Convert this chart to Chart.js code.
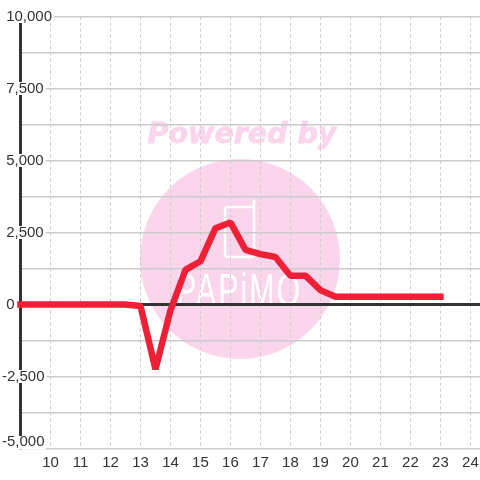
<!DOCTYPE html>
<html>
<head>
<meta charset="utf-8">
<script src="https://cdn.jsdelivr.net/npm/chart.js@4"></script>
<style>
body { margin: 0; background: #fff; }
canvas { display: block; }
</style>
</head>
<body>
<canvas id="chart" width="480" height="480"></canvas>
<script>
const hours = [9, 9.5, 10, 10.5, 11, 11.5, 12, 12.5, 13, 13.5, 14, 14.5, 15, 15.5, 16, 16.5, 17, 17.5, 18, 18.5, 19, 19.5, 20, 20.5, 21, 21.5, 22, 22.5, 23];
const values = [0, 0, 0, 0, 0, 0, 0, 0, -50, -2250, -200, 1200, 1500, 2650, 2850, 1900, 1750, 1650, 1000, 1000, 500, 270, 270, 270, 270, 270, 270, 270, 270];
const xTicks = [10, 11, 12, 13, 14, 15, 16, 17, 18, 19, 20, 21, 22, 23, 24];
const yLabelled = [10000, 7500, 5000, 2500, 0, -2500];
const yBottomLabel = -5000;

const labelFont = '15px "Liberation Sans"';

// watermark sits under the grid
const watermark = {
    id: 'watermark',
    beforeDraw(chart) {
        const ctx = chart.ctx;
        ctx.save();
        ctx.fillStyle = '#fbd5ec';
        ctx.beginPath();
        ctx.arc(240, 259, 100, 0, Math.PI * 2);
        ctx.fill();

        ctx.font = 'italic bold 28.5px "DejaVu Sans"';
        ctx.textAlign = 'center';
        ctx.textBaseline = 'middle';
        ctx.fillText('Powered by', 242, 136);
        ctx.strokeStyle = '#fbd5ec';
        ctx.lineWidth = 0.8;
        ctx.strokeText('Powered by', 242, 136);

        // phone icon
        ctx.strokeStyle = '#fff';
        ctx.lineWidth = 2.5;
        ctx.lineCap = 'round';
        ctx.beginPath();
        ctx.moveTo(254, 201);
        ctx.lineTo(254, 254);
        ctx.quadraticCurveTo(254, 257, 251, 257);
        ctx.lineTo(228, 257);
        ctx.quadraticCurveTo(225, 257, 225, 254);
        ctx.lineTo(225, 210);
        ctx.quadraticCurveTo(225, 207, 228, 207);
        ctx.lineTo(254, 207);
        ctx.stroke();

        ctx.fillStyle = '#fff';
        ctx.font = '46px "Liberation Sans"';
        ctx.letterSpacing = '3px';
        ctx.textBaseline = 'alphabetic';
        ctx.translate(239, 306);
        ctx.scale(0.66, 1);
        ctx.fillText('PAPiMO', 0, 0);
        ctx.restore();
    }
};

// the lowest label is pushed up so it stays above the bottom grid line
const bottomLabel = {
    id: 'bottomLabel',
    afterDatasetsDraw(chart) {
        const ctx = chart.ctx;
        const y = chart.scales.y.getPixelForValue(yBottomLabel);
        ctx.save();
        ctx.fillStyle = '#fff';
        ctx.fillRect(0, y - 12.5, 46, 13.5);
        ctx.fillStyle = '#333';
        ctx.font = labelFont;
        ctx.textAlign = 'left';
        ctx.textBaseline = 'middle';
        ctx.fillText(yBottomLabel.toLocaleString('en-US'), 2, y - 7);
        ctx.restore();
    }
};

new Chart(document.getElementById('chart'), {
    type: 'line',
    data: {
        datasets: [{
            data: hours.map((h, i) => ({ x: h, y: values[i] })),
            borderColor: '#ef2036',
            borderWidth: 6.5,
            borderCapStyle: 'square',
            borderJoinStyle: 'bevel',
            pointRadius: 0,
            tension: 0,
            clip: 4
        }]
    },
    options: {
        responsive: false,
        animation: false,
        layout: { padding: { top: 16.5, left: 2 } },
        plugins: { legend: { display: false }, tooltip: { enabled: false } },
        scales: {
            x: {
                type: 'linear',
                min: 9,
                max: 24.32,
                afterBuildTicks(scale) {
                    scale.ticks = xTicks.map(v => ({ value: v }));
                },
                afterFit(scale) {
                    scale.height = 31.5;
                    scale.paddingLeft = 0;
                    scale.paddingRight = 0;
                },
                border: { display: false, dash: [3, 3] },
                grid: { color: '#ccc', lineWidth: 1, drawTicks: false, tickLength: 0 },
                ticks: {
                    color: '#333',
                    font: { family: '"Liberation Sans"', size: 15 },
                    padding: 5,
                    maxRotation: 0,
                    autoSkip: false,
                    callback: v => String(v)
                }
            },
            y: {
                min: -5000,
                max: 10000,
                afterFit(scale) {
                    scale.width = 18.5;
                },
                border: { color: '#333', width: 3 },
                grid: {
                    color: c => (c.tick.value === 0 ? '#333' : '#ccc'),
                    lineWidth: c => (c.tick.value === 0 ? 3 : 1.5),
                    drawTicks: false,
                    tickLength: 0
                },
                ticks: {
                    stepSize: 1250,
                    autoSkip: false,
                    color: '#333',
                    font: { family: '"Liberation Sans"', size: 15 },
                    mirror: true,
                    padding: -18.5,
                    showLabelBackdrop: c => yLabelled.includes(c.tick.value),
                    backdropColor: '#fff',
                    backdropPadding: { left: 2, right: 2, top: -2.5, bottom: -2.5 },
                    // leading space so the minus sign hangs to the left
                    callback: v => {
                        if (!yLabelled.includes(v)) return '';
                        const s = Math.abs(v).toLocaleString('en-US');
                        return v < 0 ? '-' + s : ' ' + s;
                    }
                }
            }
        }
    },
    plugins: [watermark, bottomLabel]
});
</script>
</body>
</html>
